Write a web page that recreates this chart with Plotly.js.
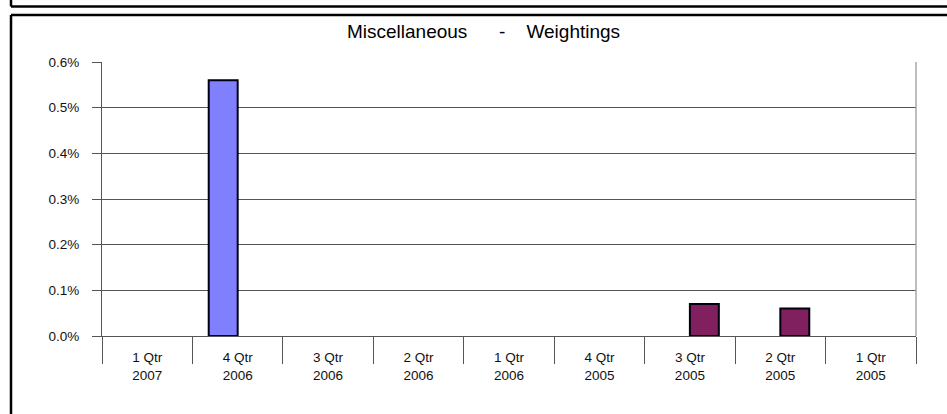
<!DOCTYPE html>
<html>
<head>
<meta charset="utf-8">
<script src="https://cdn.plot.ly/plotly-3.0.1.min.js"></script>
<style>html,body{margin:0;padding:0;background:#fff;}#chart{width:947px;height:414px;}</style>
</head>
<body>
<div id="chart"></div>
<script>
// Data
var categories = ["1 Qtr<br>2007", "4 Qtr<br>2006", "3 Qtr<br>2006", "2 Qtr<br>2006", "1 Qtr<br>2006", "4 Qtr<br>2005", "3 Qtr<br>2005", "2 Qtr<br>2005", "1 Qtr<br>2005"];
var seriesA = [null, 0.56, null, null, null, null, null, null, null];
var seriesB = [null, null, null, null, null, null, 0.07, 0.06, null];
var yTickValues = [0, 0.1, 0.2, 0.3, 0.4, 0.5, 0.6];
var yTickLabels = ["0.0%", "0.1%", "0.2%", "0.3%", "0.4%", "0.5%", "0.6%"];

var W = 947, H = 414;
var M = {l: 102, r: 31, t: 62, b: 78};
var pw = W - M.l - M.r, ph = H - M.t - M.b;
function xp(px) { return (px - M.l) / pw; }
function yp(py) { return (H - M.b - py) / ph; }

var frame = {color: '#000', width: 2.5};
var shapes = [
  {type: 'line', xref: 'paper', yref: 'paper', x0: xp(11), x1: xp(11), y0: yp(-2), y1: yp(6.5), line: frame},
  {type: 'line', xref: 'paper', yref: 'paper', x0: xp(11), x1: xp(950), y0: yp(6.5), y1: yp(6.5), line: frame},
  {type: 'line', xref: 'paper', yref: 'paper', x0: xp(11), x1: xp(950), y0: yp(15), y1: yp(15), line: frame},
  {type: 'line', xref: 'paper', yref: 'paper', x0: xp(11), x1: xp(11), y0: yp(15), y1: yp(420), line: frame},
  {type: 'line', xref: 'paper', yref: 'paper', x0: 1, x1: 1, y0: 0, y1: 1, line: {color: '#a8a8a8', width: 1.5}}
];

var traces = [
  {type: 'bar', name: 'Series 1', x: categories, y: seriesA,
   marker: {color: '#8080FF', line: {color: '#000010', width: 2}}, hoverinfo: 'x+y'},
  {type: 'bar', name: 'Series 2', x: categories, y: seriesB,
   marker: {color: '#80205F', line: {color: '#000010', width: 2}}, hoverinfo: 'x+y'}
];

var NB = '\u00a0';
var titleText = 'Miscellaneous' + NB.repeat(6) + '-' + NB.repeat(4) + 'Weightings';

var layout = {
  width: W, height: H,
  margin: M,
  paper_bgcolor: '#fff', plot_bgcolor: '#fff',
  showlegend: false,
  barmode: 'group', bargap: 0.36, bargroupgap: 0,
  font: {family: 'Liberation Sans, Arial, sans-serif', color: '#000'},
  title: {text: titleText, font: {size: 19, color: '#000'},
          xref: 'container', x: 0.5106, xanchor: 'center', yref: 'container', y: 1 - 31 / H, yanchor: 'middle'},
  xaxis: {
    type: 'category', showgrid: false, zeroline: false,
    showline: true, linecolor: '#555', linewidth: 1,
    ticks: 'outside', tickson: 'boundaries', ticklen: 27, tickcolor: '#555', tickwidth: 1,
    ticklabelstandoff: 9,
    tickfont: {size: 13.5, color: '#111'}
  },
  yaxis: {
    range: [0, 0.6], tickvals: yTickValues, ticktext: yTickLabels,
    showgrid: true, gridcolor: '#555', gridwidth: 1, zeroline: false,
    showline: true, linecolor: '#555', linewidth: 1,
    ticks: 'outside', ticklen: 9, tickcolor: '#555',
    ticklabelstandoff: 10,
    tickfont: {size: 13.5, color: '#111'}
  },
  shapes: shapes
};

Plotly.newPlot('chart', traces, layout, {displayModeBar: false, staticPlot: true});
</script>
</body>
</html>
